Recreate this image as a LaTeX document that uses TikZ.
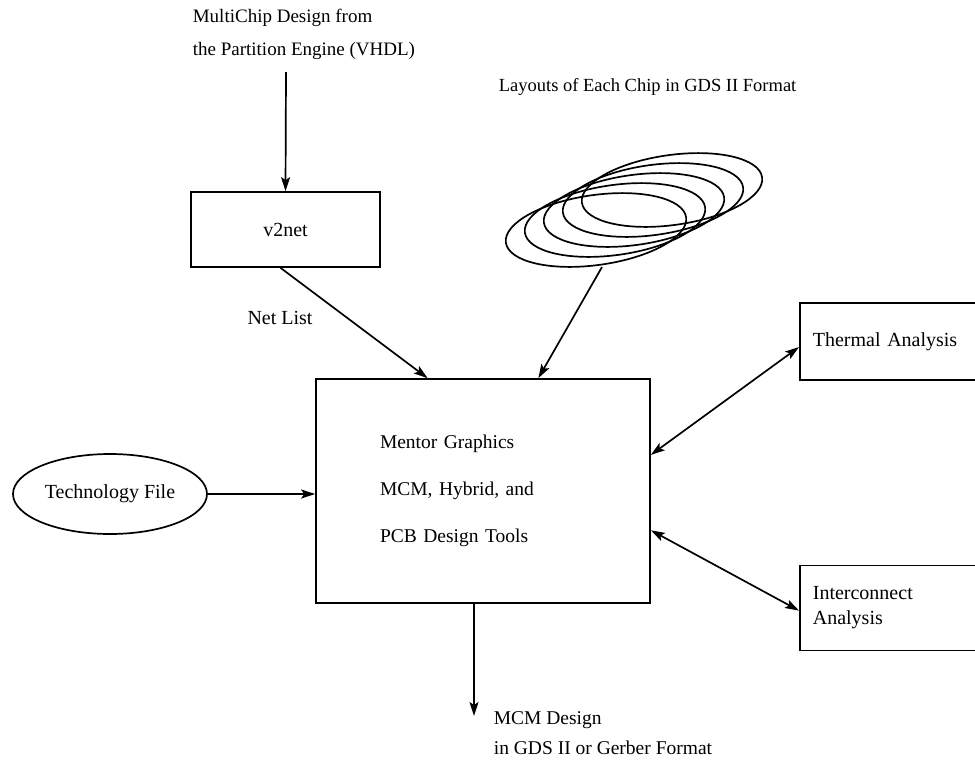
\documentclass[tikz,border=0pt]{standalone}
\usepackage{fontspec}
\setmainfont{Liberation Serif}
\usetikzlibrary{arrows.meta,shapes.geometric,calc}
\begin{document}
\begin{tikzpicture}[x=1pt,y=-1pt,line width=1.7pt,
  every node/.style={font=\fontsize{20}{25}\selectfont,inner sep=0pt},
  box/.style={draw,line width=1.7pt},
  txt/.style={align=left,anchor=west},
  arr/.style={-{Stealth[length=14pt,width=9pt,inset=3pt]}},
  darr/.style={{Stealth[length=14pt,width=9pt,inset=3pt]}-{Stealth[length=14pt,width=9pt,inset=3pt]}},
  chip/.style={line width=1.7pt}]
\useasboundingbox (0,0) rectangle (975,772);
\clip (0,0) rectangle (975,772);

% top input text
\node[txt,font=\fontsize{19}{33}\selectfont] (input) at (192,34) {MultiChip Design from\\the Partition Engine (VHDL)};
\coordinate (src) at (286,72);

% v2net
\node[box,minimum width=189,minimum height=75] (v2net) at (285.5,229.5) {v2net};

% main box
\node[box,minimum width=334,minimum height=224,text width=206,inner xsep=64,align=left,
      font=\fontsize{19.5}{47}\selectfont] (main) at (483,491)
  {Mentor Graphics\\MCM, Hybrid, and\\PCB Design Tools};

% technology file
\node[draw,ellipse,line width=1.7pt,minimum width=194,minimum height=80] (tech) at (110,494) {Technology File};

% thermal
\node[box,anchor=west,minimum width=220,minimum height=77,text width=207,inner xsep=13,align=left] (thermal) at (799,341.5) {Thermal Analysis};

% interconnect
\node[box,anchor=west,minimum width=220,minimum height=85,text width=207,inner xsep=13,align=left] (inter) at (799,608) {Interconnect\\Analysis};

% layouts
\node[anchor=west,font=\fontsize{18.5}{22}\selectfont] (layouts) at (498,87) {Layouts of Each Chip in GDS II Format};
\foreach \i in {0,...,4}{
  \draw[chip,rotate around={8:(596+19*\i,230-10*\i)}] (596+19*\i,230-10*\i) ellipse [x radius=91,y radius=35];
}
\coordinate (chips) at (602,267);

% net list label
\node (netlist) at (280,318) {Net List};

% output label
\node[txt,font=\fontsize{19.5}{30}\selectfont] (out) at (493,733) {MCM Design\\in GDS II or Gerber Format};
\coordinate (outtip) at (474,716);

% connectors
\draw[arr] (src) -- (v2net.north);
\draw[arr] ($(v2net.south)+(-5,0)$) -- ($(main.north west)!0.335!(main.north east)$);
\draw[arr] (chips) -- ($(main.north west)!0.665!(main.north east)$);
\draw[arr] (tech.east) -- (main.west |- tech.east);
\draw[darr] ($(main.north east)!0.34!(main.south east)$) -- ($(thermal.north west)!0.57!(thermal.south west)$);
\draw[darr] ($(main.north east)!0.674!(main.south east)$) -- ($(inter.north west)!0.53!(inter.south west)$);
\draw[arr] (main.south -| outtip) -- (outtip);
\end{tikzpicture}
\end{document}
